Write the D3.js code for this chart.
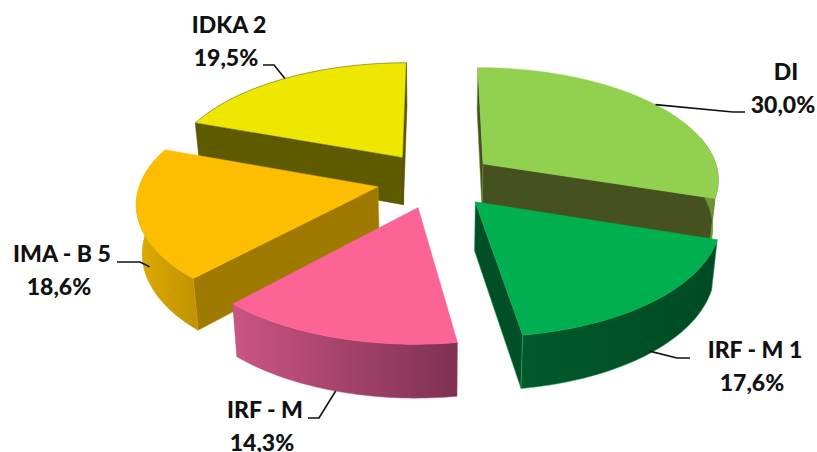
<!DOCTYPE html>
<meta charset="utf-8">
<style>
html, body { margin: 0; background: #fff; }
text { font-family: Lato, "Open Sans", sans-serif; font-weight: 900; font-size: 23px; fill: #111; text-anchor: middle; }
</style>
<body>
<div id="chart"></div>
<script src="https://d3js.org/d3.v7.min.js"></script>
<script>

    // chart values
    var names = ["DI", "IRF - M 1", "IRF - M", "IMA - B 5", "IDKA 2"];
    var shares = [30.0, 17.6, 14.3, 18.6, 19.5];
    var shareLabels = ["30,0%", "17,6%", "14,3%", "18,6%", "19,5%"];

    // colours per slice
    var topColors = ["#92d050", "#00b050", "#fb6495", "#fdbd00", "#eee700"];
    var sideColors = ["#45521f", "#004f26", "#7e3152", "#9f7a00", "#5e5a00"];
    var wallLeft = ["#7a9a3a", "#005a2b", "#cb5582", "#dfac00", "#8a8600"];
    var wallRight = ["#6a8a30", "#004a23", "#7e3152", "#c29400", "#6a6600"];
    var edgeColors = ["#6f8f35", "#2fa860", "#c04f7a", "#c29a10", "#4a4700"];

    // label placement: [centre x, first baseline, elbow x, elbow y, tail x,
    //                   where the leader meets the rim (0-1 along the slice), and at which height (0 top, 1 bottom)]
    var labelLayout = [
        [786, 80, 733, 112, 745, 0.5, 0],
        [755, 358, 677, 358, 690, 0.5, 0.95],
        [265, 418, 319, 418, 308, 0.5, 1],
        [62, 262, 140, 262, 117, 0.33, 0.58],
        [229, 33, 274, 65, 263, 0.5, 0]
    ];

    var svg = d3.select("#chart").append("svg")
        .attr("width", 817)
        .attr("height", 452);

    // projection of the tilted pie
    var cx = 436, cy = 180,
        rx = 237, ry = 112,
        persp = 0.125,
        explode = 0.25,
        depth = 48;

    function project(X, Y, z) {
        var s = 1 / (1 - persp * Y);
        var px = cx + rx * X * s,
            py = cy + ry * Y * s;
        if (z) {
            px = cx + (px - cx) * (1 - 0.02 * z);
            py = py + z * depth * (1 + 0.1 * Y);
        }
        return [px, py];
    }

    var pie = d3.pie().sort(null).value(function(d) { return d; });
    var slices = pie(shares);
    var line = d3.line();

    function offset(d) {
        var mid = (d.startAngle + d.endAngle) / 2;
        return [explode * Math.sin(mid), -explode * Math.cos(mid)];
    }

    function rimPoint(d, a, z) {
        var o = offset(d);
        return project(o[0] + Math.sin(a), o[1] - Math.cos(a), z);
    }

    function rim(d, z) {
        return d3.range(0, 41).map(function(i) {
            return rimPoint(d, d.startAngle + (d.endAngle - d.startAngle) * i / 40, z);
        });
    }

    // the part of the outer rim that faces the viewer, a bit past the sides
    // so the wall reaches the widest point of the top face
    function frontRim(d, z) {
        var a0 = Math.max(d.startAngle, Math.PI / 2 - 0.25),
            a1 = Math.min(d.endAngle, Math.PI * 3 / 2 + 0.25);
        if (a1 <= a0) return [];
        return d3.range(0, 41).map(function(i) {
            return rimPoint(d, a0 + (a1 - a0) * i / 40, z);
        });
    }

    var defs = svg.append("defs");

    // back slices first, front slices over them
    var order = [4, 0, 3, 2, 1];

    order.forEach(function(i) {
        var d = slices[i];
        var o = offset(d);
        var top = rim(d, 0);
        var apexTop = project(o[0], o[1], 0), apexBottom = project(o[0], o[1], 1);
        var g = svg.append("g");

        // radial walls, only the ones turned towards the viewer
        if (Math.sin(d.startAngle) <= 0.001) {
            g.append("path")
                .attr("d", line([apexTop, top[0], rimPoint(d, d.startAngle, 1), apexBottom]) + "Z")
                .style("fill", sideColors[i])
                .style("stroke", edgeColors[i])
                .style("stroke-width", 0.5);
        }
        if (Math.sin(d.endAngle) >= -0.001) {
            g.append("path")
                .attr("d", line([apexTop, top[40], rimPoint(d, d.endAngle, 1), apexBottom]) + "Z")
                .style("fill", sideColors[i])
                .style("stroke", edgeColors[i])
                .style("stroke-width", 0.5);
        }

        // outer wall, shaded from left to right
        var upper = frontRim(d, 0), lower = frontRim(d, 1);
        if (upper.length) {
            var extent = d3.extent(upper, function(p) { return p[0]; });
            var grad = defs.append("linearGradient")
                .attr("id", "wall" + i)
                .attr("gradientUnits", "userSpaceOnUse")
                .attr("x1", extent[0]).attr("x2", extent[1])
                .attr("y1", 0).attr("y2", 0);
            grad.append("stop").attr("offset", 0).attr("stop-color", wallLeft[i]);
            grad.append("stop").attr("offset", 1).attr("stop-color", wallRight[i]);

            g.append("path")
                .attr("d", line(upper.concat(lower.slice().reverse())) + "Z")
                .style("fill", "url(#wall" + i + ")")
                .style("stroke", edgeColors[i])
                .style("stroke-width", 0.5);
        }

        // top face
        g.append("path")
            .attr("d", line([apexTop].concat(top)) + "Z")
            .style("fill", topColors[i])
            .style("stroke", i == 4 ? edgeColors[i] : topColors[i])
            .style("stroke-width", 0.5);
    });

    // leader lines and labels
    slices.forEach(function(d, i) {
        var l = labelLayout[i];
        var anchor = rimPoint(d, d.startAngle + (d.endAngle - d.startAngle) * l[5], l[6]);

        svg.append("path")
            .attr("d", line([anchor, [l[2], l[3]], [l[4], l[3]]]))
            .style("fill", "none")
            .style("stroke", "#111")
            .style("stroke-width", 1.6);

        svg.append("text")
            .attr("x", l[0])
            .attr("y", l[1])
            .text(names[i]);

        svg.append("text")
            .attr("x", l[0] - 3)
            .attr("y", l[1] + 33)
            .text(shareLabels[i]);
    });

</script>
</body>
